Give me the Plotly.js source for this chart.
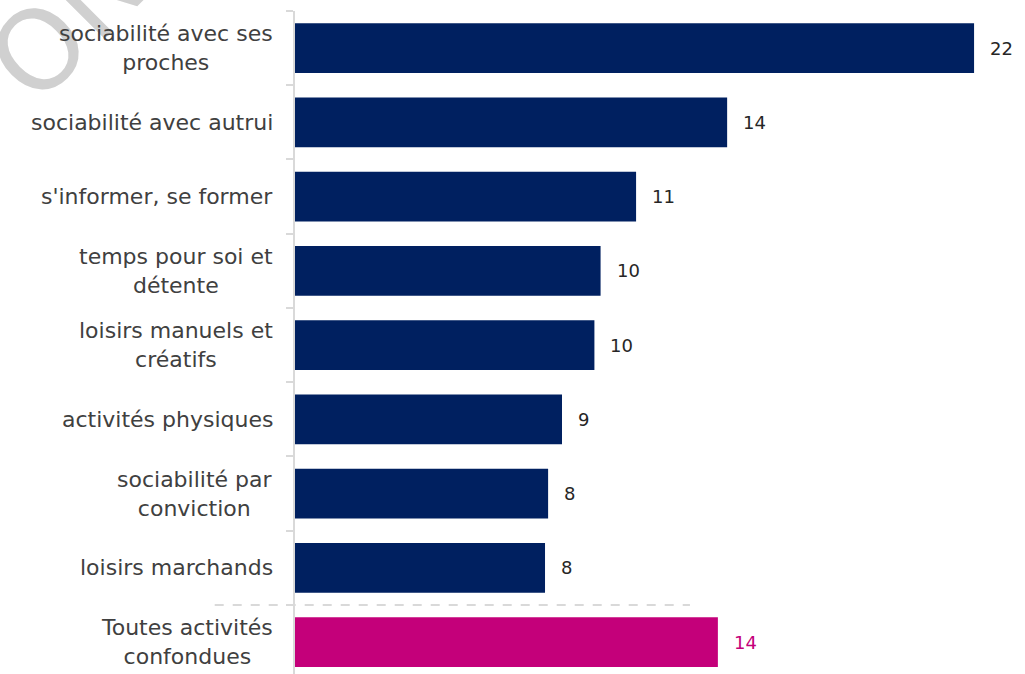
<!DOCTYPE html>
<html>
<head>
<meta charset="utf-8">
<script src="https://cdn.plot.ly/plotly-3.0.1.min.js"></script>
<style>html,body{margin:0;padding:0;background:#fff;}#chart{width:1025px;height:674px;}</style>
</head>
<body>
<div id="chart"></div>
<script>
const categories = [
  "sociabilité avec ses<br>proches",
  "sociabilité avec autrui",
  "s'informer, se former",
  "temps pour soi et<br>détente",
  "loisirs manuels et<br>créatifs",
  "activités physiques",
  "sociabilité par<br>conviction",
  "loisirs marchands",
  "Toutes activités<br>confondues"
];
const values = [22, 14.0, 11.05, 9.9, 9.7, 8.65, 8.2, 8.1, 13.7];
const valueLabels = ["22", "14", "11", "10", "10", "9", "8", "8", "14"];
const barColors = ["#002060","#002060","#002060","#002060","#002060","#002060","#002060","#002060","#C4007A"];
const labelColors = ["#262626","#262626","#262626","#262626","#262626","#262626","#262626","#262626","#C4007A"];
const watermark = "ON";

const trace = {
  type: "bar",
  orientation: "h",
  x: values,
  y: categories,
  marker: {color: barColors},
  width: 0.67,
  hoverinfo: "none"
};

const annotations = [{
  xref: "paper", yref: "paper", x: -0.31, y: 0.985,
  xanchor: "center", yanchor: "middle",
  text: watermark, showarrow: false, textangle: -45,
  font: {family: "DejaVu Sans, sans-serif", size: 110, color: "#d0d0d0"}
}];

categories.forEach((c, i) => annotations.push({
  x: 0, y: c, xref: "paper", yref: "y",
  text: c, showarrow: false, align: "center",
  xanchor: "right", yanchor: "middle", xshift: -20,
  font: {family: "DejaVu Sans, sans-serif", size: 22, color: "#404040"}
}));

values.forEach((v, i) => annotations.push({
  x: v, y: categories[i], xref: "x", yref: "y",
  text: valueLabels[i], showarrow: false,
  xanchor: "left", xshift: 14,
  font: {family: "DejaVu Sans, sans-serif", size: 18, color: labelColors[i]}
}));

const layout = {
  width: 1025, height: 674,
  margin: {l: 295, r: 0, t: 11, b: 0},
  paper_bgcolor: "#ffffff", plot_bgcolor: "#ffffff",
  showlegend: false,
  xaxis: {range: [0, 23.65], visible: false, fixedrange: true},
  yaxis: {
    type: "category",
    range: [8.43, -0.5],
    showline: true, linecolor: "#d9d9d9", linewidth: 2,
    ticks: "outside", tickson: "boundaries", ticklen: 7, tickcolor: "#d9d9d9", tickwidth: 2,
    showgrid: false, zeroline: false,
    showticklabels: false
  },
  shapes: [{
    type: "line", xref: "paper", yref: "y",
    x0: -0.11, x1: 0.541, y0: 7.5, y1: 7.5,
    line: {color: "#d9d9d9", width: 2, dash: "dash"}
  }],
  annotations: annotations
};

Plotly.newPlot("chart", [trace], layout, {displayModeBar: false, staticPlot: true});
</script>
</body>
</html>
